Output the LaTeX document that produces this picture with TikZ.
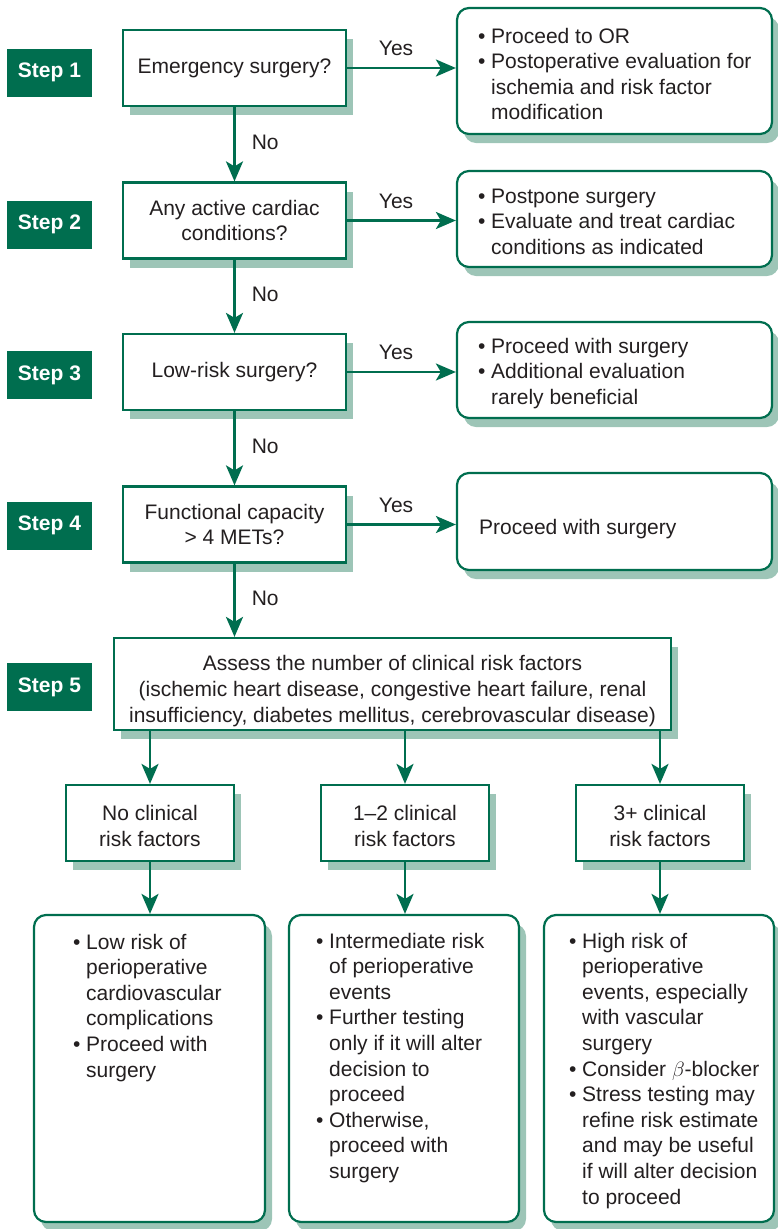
\documentclass[tikz,border=0pt]{standalone}
\usepackage{fontspec}
\setmainfont{Liberation Sans}
\usetikzlibrary{arrows.meta,shadows}
\definecolor{dgreen}{HTML}{006E4F}
\definecolor{shgreen}{HTML}{9DC5B7}
\definecolor{txtc}{HTML}{231F20}
\newcommand{\bl}[1]{\hbox{\makebox[13pt][l]{\textbullet}#1}}
\newcommand{\cl}[1]{\hbox{\hspace*{13pt}#1}}
\newcommand{\lift}[1]{\rule{0pt}{#1}}
\tikzset{
 basefont/.style={font=\fontsize{21}{25.6}\selectfont, text=txtc},
 stepbox/.style={fill=dgreen, text=white, font=\fontsize{21}{25.6}\selectfont\bfseries, minimum width=85pt, minimum height=48pt, inner sep=0pt},
 shad/.style={drop shadow={shadow xshift=7pt, shadow yshift=-9pt, fill=shgreen, opacity=1}},
 qbox/.style={basefont, draw=dgreen, line width=2.2pt, fill=white, align=center, inner sep=0pt, shad},
 rbox/.style={draw=dgreen, line width=2.2pt, fill=white, rounded corners=12pt, inner sep=0pt, shad},
 arr/.style={draw=dgreen, line width=2.6pt, -{Stealth[length=20pt,width=17pt,inset=5pt]}},
 lbl/.style={basefont, inner sep=0pt},
 txt/.style={basefont, inner sep=0pt, anchor=base west},
}
\begin{document}
\begin{tikzpicture}[x=1pt,y=-1pt]
\useasboundingbox (0,0) rectangle (777,1229);
% step labels
\node[stepbox] (st1) at (49.5,72.5) {Step 1};
\node[stepbox] (st2) at (49.5,224.5) {Step 2};
\node[stepbox] (st3) at (49.5,375) {Step 3};
\node[stepbox] (st4) at (49.5,525.5) {Step 4};
\node[stepbox] (st5) at (49.5,687) {Step 5};
% decision boxes
\node[qbox, minimum width=223pt, minimum height=76pt] (q1) at (234.5,68) {Emergency surgery?};
\node[qbox, minimum width=223pt, minimum height=76pt] (q2) at (234.5,220.5) {Any active cardiac\\conditions?};
\node[qbox, minimum width=223pt, minimum height=76pt] (q3) at (234.5,372) {Low-risk surgery?};
\node[qbox, minimum width=223pt, minimum height=76pt] (q4) at (234.5,524.5) {Functional capacity\\> 4 METs?};
% right boxes
\node[rbox, minimum width=315pt, minimum height=126pt] (r1) at (614.5,71) {};
\node[rbox, minimum width=315pt, minimum height=96pt] (r2) at (614.5,219) {};
\node[rbox, minimum width=315pt, minimum height=96pt] (r3) at (614.5,370) {};
\node[rbox, minimum width=315pt, minimum height=97pt] (r4) at (614.5,521.5) {};
\node[txt] (t1) at (478,43) {\vtop{\bl{Proceed to OR}\bl{Postoperative evaluation for}\cl{ischemia and risk factor}\cl{modification}}};
\node[txt] (t2) at (478,203) {\vtop{\bl{Postpone surgery}\bl{Evaluate and treat cardiac}\cl{conditions as indicated}}};
\node[txt] (t3) at (478,353) {\vtop{\bl{Proceed with surgery}\bl{Additional evaluation}\cl{rarely beneficial}}};
\node[txt] (t4) at (479,534) {Proceed with surgery};
% step 5
\node[qbox, minimum width=557pt, minimum height=92pt] (s5) at (392.5,684) {\lift{29.5pt}Assess the number of clinical risk factors\\(ischemic heart disease, congestive heart failure, renal\\insufficiency, diabetes mellitus, cerebrovascular disease)};
% middle boxes
\node[qbox, minimum width=168pt, minimum height=76pt] (m1) at (150,823) {\lift{21.5pt}No clinical\\risk factors};
\node[qbox, minimum width=168pt, minimum height=76pt] (m2) at (405,823) {\lift{21.5pt}1–2 clinical\\risk factors};
\node[qbox, minimum width=168pt, minimum height=76pt] (m3) at (660,823) {\lift{21.5pt}3+ clinical\\risk factors};
% bottom boxes
\node[rbox, minimum width=231pt, minimum height=307pt] (b1) at (149.5,1068.5) {};
\node[rbox, minimum width=230pt, minimum height=307pt] (b2) at (404,1068.5) {};
\node[rbox, minimum width=230pt, minimum height=307pt] (b3) at (659,1068.5) {};
\node[txt] (tb1) at (73,949) {\vtop{\bl{Low risk of}\cl{perioperative}\cl{cardiovascular}\cl{complications}\bl{Proceed with}\cl{surgery}}};
\node[txt] (tb2) at (316,948) {\vtop{\bl{Intermediate risk}\cl{of perioperative}\cl{events}\bl{Further testing}\cl{only if it will alter}\cl{decision to}\cl{proceed}\bl{Otherwise,}\cl{proceed with}\cl{surgery}}};
\node[txt] (tb3) at (569,948) {\vtop{\bl{High risk of}\cl{perioperative}\cl{events, especially}\cl{with vascular}\cl{surgery}\bl{Consider $\beta$-blocker}\bl{Stress testing may}\cl{refine risk estimate}\cl{and may be useful}\cl{if will alter decision}\cl{to proceed}}};
% arrows: yes
\draw[arr] (q1.east) -- (q1.east -| r1.west) node[lbl, pos=0.45, yshift=19.5pt] {Yes};
\draw[arr] (q2.east) -- (q2.east -| r2.west) node[lbl, pos=0.45, yshift=19.5pt] {Yes};
\draw[arr] (q3.east) -- (q3.east -| r3.west) node[lbl, pos=0.45, yshift=19.5pt] {Yes};
\draw[arr] (q4.east) -- (q4.east -| r4.west) node[lbl, pos=0.45, yshift=19.5pt] {Yes};
% arrows: no
\draw[arr] (q1) -- (q2) node[lbl, midway, anchor=west, xshift=16pt, yshift=1.5pt] {No};
\draw[arr] (q2) -- (q3) node[lbl, midway, anchor=west, xshift=16pt, yshift=1.5pt] {No};
\draw[arr] (q3) -- (q4) node[lbl, midway, anchor=west, xshift=16pt, yshift=1.5pt] {No};
\draw[arr] (q4) -- (q4 |- s5.north) node[lbl, midway, anchor=west, xshift=16pt, yshift=1.5pt] {No};
% step 5 to categories
\draw[arr] (s5.south -| m1) -- (m1);
\draw[arr] (s5.south -| m2) -- (m2);
\draw[arr] (s5.south -| m3) -- (m3);
% categories to outcomes
\draw[arr] (m1) -- (m1 |- b1.north);
\draw[arr] (m2) -- (m2 |- b2.north);
\draw[arr] (m3) -- (m3 |- b3.north);
\end{tikzpicture}
\end{document}
